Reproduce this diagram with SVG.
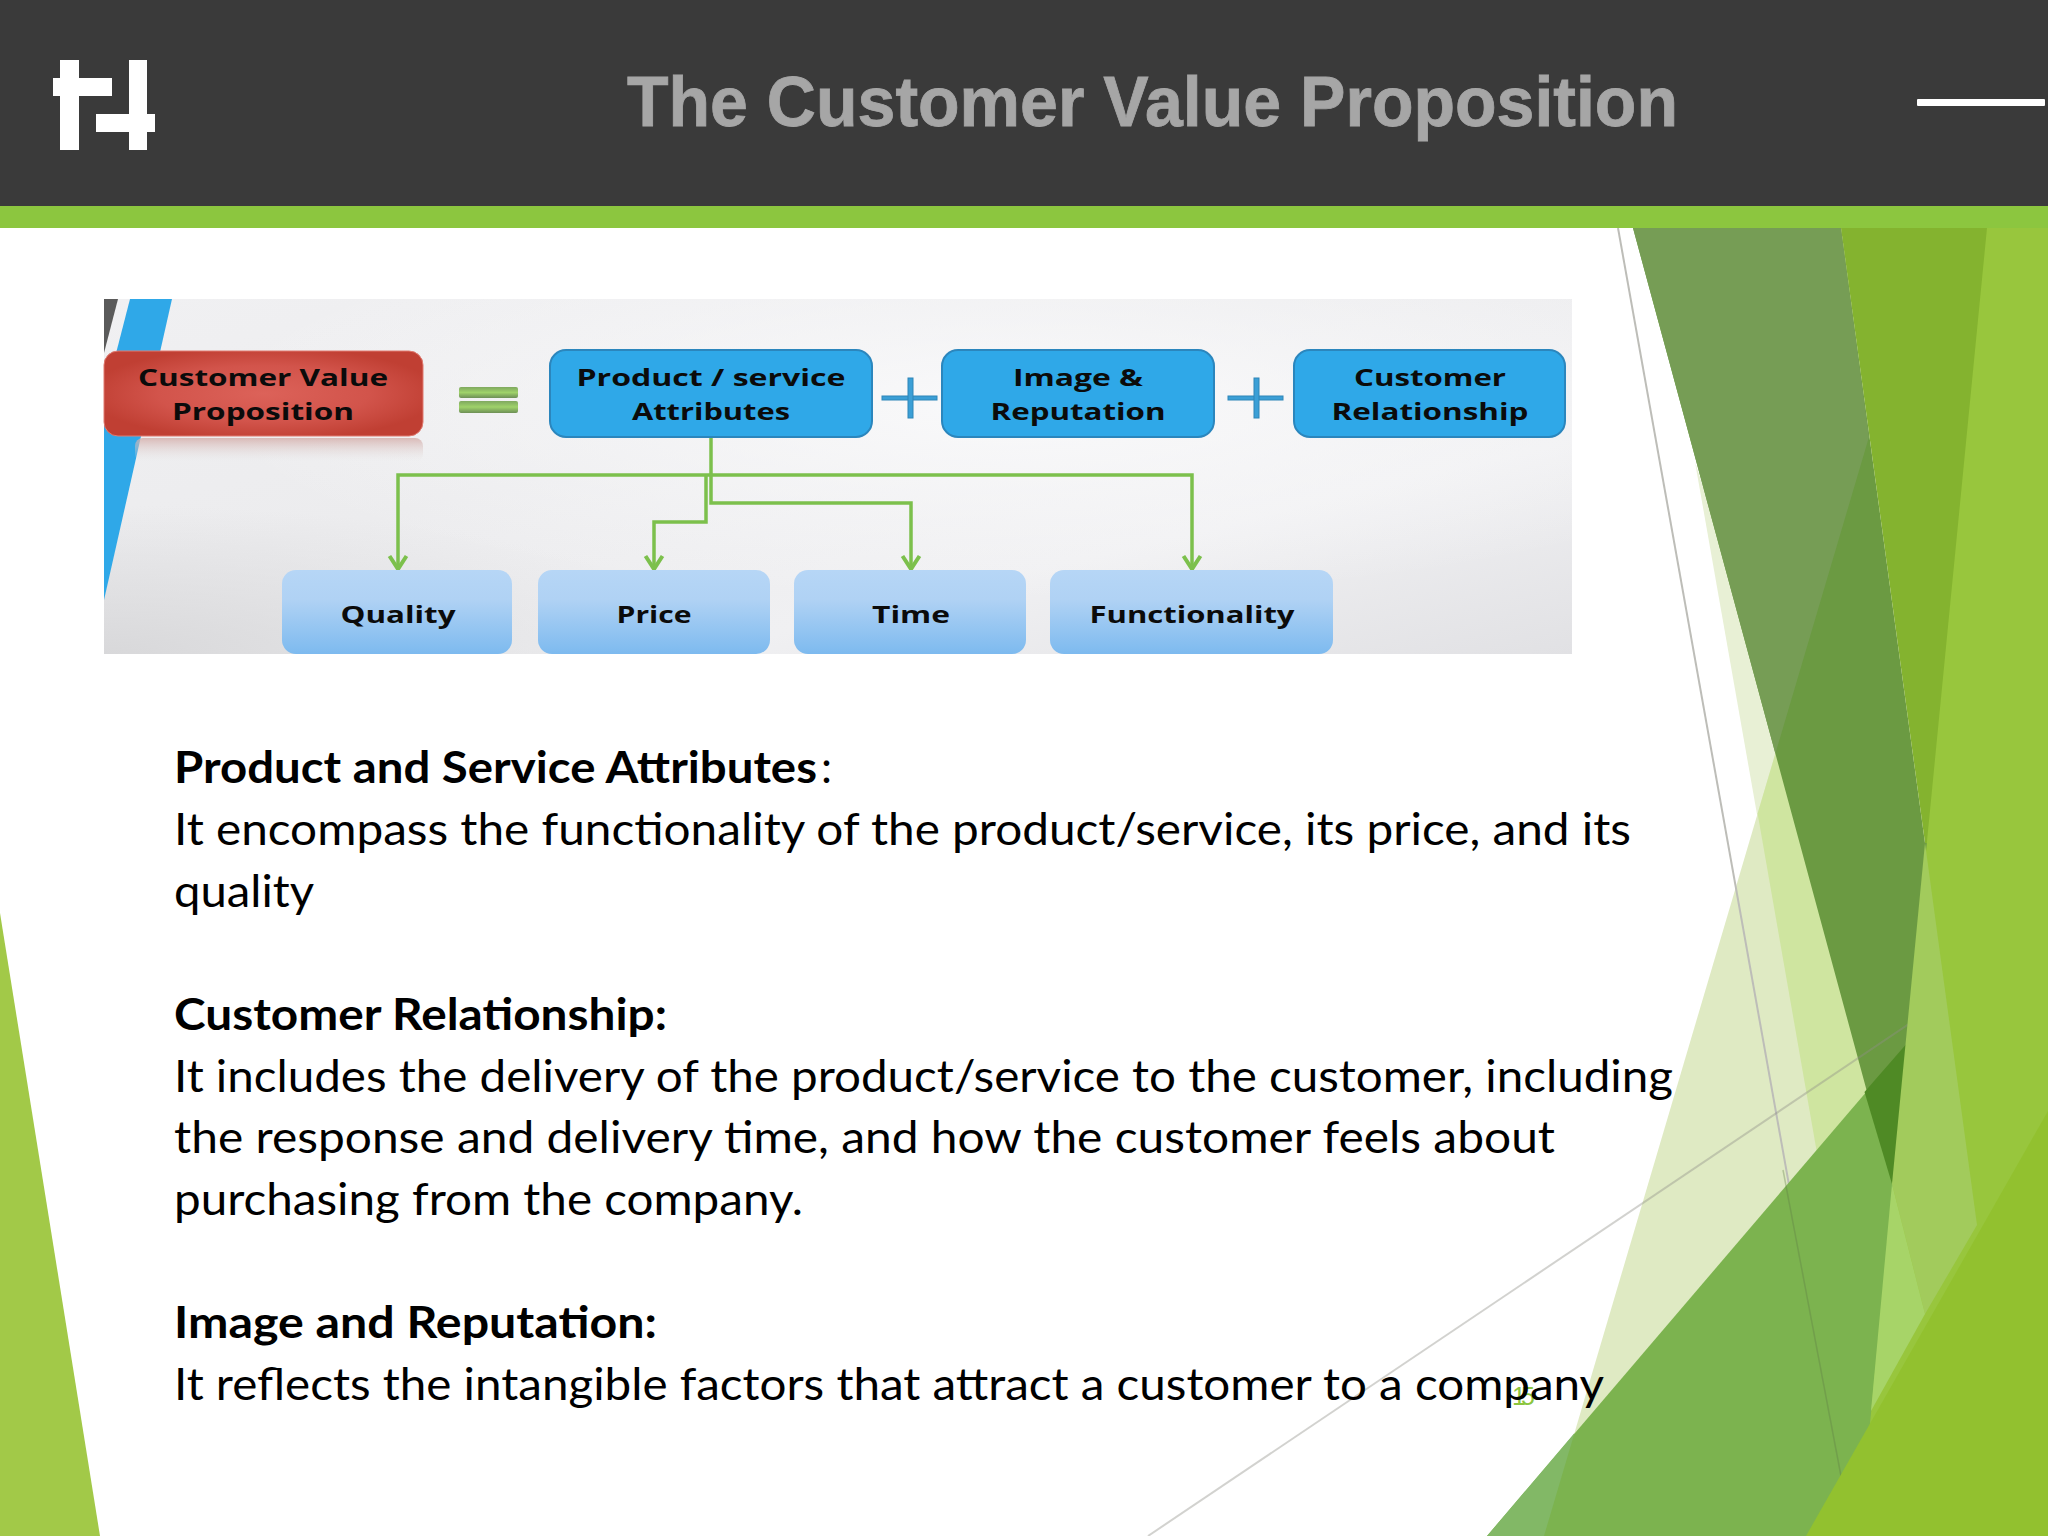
<svg xmlns="http://www.w3.org/2000/svg" width="2048" height="1536" viewBox="0 0 2048 1536">
<defs>
<style>
.t{font-family:"Liberation Sans",Arial,sans-serif;font-weight:700}
.b{font-family:Lato,"Open Sans",sans-serif;font-size:44px;fill:#000}
.bb{font-weight:700}
.n{font-family:"Open Sans","Noto Sans",sans-serif;font-weight:700;font-size:24px;fill:#0b0b0b;text-anchor:middle}
.top{fill:#2fa8e8;stroke:#2b86bd;stroke-width:2}
.sub{fill:url(#subG)}
.plus{fill:#3b9fd6;stroke:#2f86b8;stroke-width:1}
.c{fill:none;stroke:#7cc04c;stroke-width:3.5;stroke-linejoin:miter}
.a{marker-end:url(#arr)}
</style>
<linearGradient id="subG" x1="0" y1="0" x2="0" y2="1"><stop offset="0" stop-color="#b6d6f6"/><stop offset=".35" stop-color="#b0d2f4"/><stop offset="1" stop-color="#7dbaef"/></linearGradient>
<radialGradient id="redG" cx=".5" cy=".5" r=".55"><stop offset="0" stop-color="#dc6259"/><stop offset=".6" stop-color="#d2544b"/><stop offset="1" stop-color="#c03f33"/></radialGradient>
<linearGradient id="refl" x1="0" y1="0" x2="0" y2="1"><stop offset="0" stop-color="#d4aca8" stop-opacity=".8"/><stop offset="1" stop-color="#e4e4e4" stop-opacity="0"/></linearGradient>
<linearGradient id="eqG" x1="0" y1="0" x2="0" y2="1"><stop offset="0" stop-color="#7fa85f"/><stop offset=".5" stop-color="#9fd26a"/><stop offset="1" stop-color="#6d8f56"/></linearGradient>
<linearGradient id="bgA" x1="0" y1="0" x2="1" y2="1"><stop offset="0" stop-color="#f0f0f2"/><stop offset=".4" stop-color="#ececee"/><stop offset=".7" stop-color="#f0f0f2"/><stop offset="1" stop-color="#e1e1e4"/></linearGradient>
<radialGradient id="bgB" cx=".62" cy=".3" r=".55"><stop offset="0" stop-color="#fafafb" stop-opacity=".95"/><stop offset="1" stop-color="#fafafb" stop-opacity="0"/></radialGradient>
<radialGradient id="bgC" cx="0" cy="1" r=".42"><stop offset="0" stop-color="#d8d8da" stop-opacity="1"/><stop offset="1" stop-color="#d8d8da" stop-opacity="0"/></radialGradient>
<marker id="arr" markerUnits="userSpaceOnUse" markerWidth="24" markerHeight="20" refX="10" refY="16" orient="0" viewBox="0 0 20 20"><path d="M1.500 3 L10 16 L18.500 3" fill="none" stroke="#7cc04c" stroke-width="4"/></marker>
</defs>
<rect width="2048" height="1536" fill="#fff"/>

<g id="facets">
<polygon points="0,913 100,1536 0,1536" fill="#a2c948"/>
<polygon points="1695,462 1884,1536 1900,1536 1900,1100" fill="#e8f0d5"/>
<polygon points="1869,437 1544,1536 1900,1536" fill="#dfeac3"/>
<polygon points="1757.600,813.600 1884,1536 1900,1536 1900,900 1869,437" fill="#cfe5a0"/>
<line x1="1618" y1="228" x2="1841" y2="1476" stroke="#bdbdb8" stroke-width="2"/>
<polygon points="1633,228 1841,228 1925,843 1940,843 1905,1184 1892,1184" fill="#6b9a42"/>
<polygon points="1633,228 1841,228 1869,437 1775.400,753.500" fill="#769d55"/>
<polygon points="1487,1536 1950,994 1950,1536" fill="#7cb34f"/>
<polygon points="1487,1536 1544,1536 1574.500,1433" fill="#82b866"/>
<polygon points="1864.500,1092 1950,994 1892,1184" fill="#4f8a25"/>
<line x1="1783" y1="1170" x2="1841" y2="1476" stroke="#5f7a45" stroke-width="1.500" stroke-opacity=".35"/>
<line x1="1148" y1="1536" x2="1943" y2="1001" stroke="#8f8f88" stroke-width="2" stroke-opacity=".4"/>
<polygon points="1841,228 1990,228 2000,843 1925,843" fill="#84b32f"/>
<polygon points="1987,228 2048,228 2048,1536 1859,1536" fill="#98c63d"/>
<polygon points="1925,843 1977,1225 1925,1314 1892,1184" fill="#a2cb5c"/>
<polygon points="1892,1184 1925,1314 1871,1411" fill="#a7d468"/>
<polygon points="1806,1536 2048,1111 2048,1536" fill="#92c12f"/>
</g>

<g id="header">
<rect width="2048" height="206" fill="#3a3a3a"/>
<rect y="206" width="2048" height="22" fill="#8cc63f"/>
<g id="logo" fill="#fff">
<rect x="60" y="60" width="19" height="90"/><rect x="53" y="78" width="59" height="18"/>
<rect x="129" y="60" width="18" height="90"/><rect x="96" y="114" width="59" height="18"/>
</g>
<text class="t" x="627" y="126" font-size="71" fill="#a6a6a6" stroke="#a6a6a6" stroke-width=".8" textLength="1051" lengthAdjust="spacingAndGlyphs">The Customer Value Proposition</text>
<rect x="1917" y="99" width="128" height="7" rx="1" fill="#fff"/>
</g>

<g id="picture">
<rect x="104" y="299" width="1468" height="355" fill="url(#bgA)"/>
<rect x="104" y="299" width="1468" height="355" fill="url(#bgC)"/>
<rect x="104" y="299" width="1468" height="355" fill="url(#bgB)"/>
<polygon points="104,299 118,299 104,353" fill="#5a5a5a"/>
<polygon points="130,299 172,299 104,600 104,400" fill="#2fa8e8"/>
</g>

<text class="b" x="1512" y="1405" style="font-family:'Liberation Sans',sans-serif;font-size:25px;fill:#8cc63f" textLength="23">15</text>

<g id="connectors">
<path class="c" d="M711 437V475"/>
<path class="c a" d="M711 475H398V569"/>
<path class="c a" d="M711 475H1192V569"/>
<path class="c a" d="M706 475V522H654V569"/>
<path class="c a" d="M711 475V503H911V569"/>
</g>

<g id="node-customer-value">
<rect x="135" y="438" width="288" height="24" rx="8" fill="url(#refl)"/>
<rect x="104" y="351" width="319" height="85" rx="14" fill="url(#redG)" stroke="#e07a70" stroke-width="1"/>
<text class="n" x="263" y="386" textLength="250" lengthAdjust="spacingAndGlyphs">Customer Value</text>
<text class="n" x="263" y="420" textLength="182" lengthAdjust="spacingAndGlyphs">Proposition</text>
</g>
<g id="equals"><rect x="459" y="387" width="59" height="11" rx="2" fill="url(#eqG)"/><rect x="459" y="401" width="59" height="12" rx="2" fill="url(#eqG)"/></g>
<g id="node-product">
<rect class="top" x="550" y="350" width="322" height="87" rx="16"/>
<text class="n" x="711" y="386" textLength="269" lengthAdjust="spacingAndGlyphs">Product / service</text>
<text class="n" x="711" y="420" textLength="158" lengthAdjust="spacingAndGlyphs">Attributes</text>
</g>
<g id="plus-1"><rect class="plus" x="882" y="396" width="55" height="4"/><rect class="plus" x="908" y="378" width="5" height="40"/></g>
<g id="node-image">
<rect class="top" x="942" y="350" width="272" height="87" rx="16"/>
<text class="n" x="1078" y="386" textLength="130" lengthAdjust="spacingAndGlyphs">Image &amp;</text>
<text class="n" x="1078" y="420" textLength="175" lengthAdjust="spacingAndGlyphs">Reputation</text>
</g>
<g id="plus-2"><rect class="plus" x="1228" y="396" width="55" height="4"/><rect class="plus" x="1254" y="378" width="5" height="40"/></g>
<g id="node-relationship">
<rect class="top" x="1294" y="350" width="271" height="87" rx="16"/>
<text class="n" x="1430" y="386" textLength="152" lengthAdjust="spacingAndGlyphs">Customer</text>
<text class="n" x="1430" y="420" textLength="197" lengthAdjust="spacingAndGlyphs">Relationship</text>
</g>
<g id="node-quality"><rect class="sub" x="282" y="570" width="230" height="84" rx="14"/><text class="n" x="398" y="623" textLength="115" lengthAdjust="spacingAndGlyphs">Quality</text></g>
<g id="node-price"><rect class="sub" x="538" y="570" width="232" height="84" rx="14"/><text class="n" x="654" y="623" textLength="75" lengthAdjust="spacingAndGlyphs">Price</text></g>
<g id="node-time"><rect class="sub" x="794" y="570" width="232" height="84" rx="14"/><text class="n" x="911" y="623" textLength="78" lengthAdjust="spacingAndGlyphs">Time</text></g>
<g id="node-functionality"><rect class="sub" x="1050" y="570" width="283" height="84" rx="14"/><text class="n" x="1192" y="623" textLength="205" lengthAdjust="spacingAndGlyphs">Functionality</text></g>

<g id="body">
<text class="b bb" x="174" y="783" textLength="643" lengthAdjust="spacingAndGlyphs">Product and Service Attributes</text>
<text class="b" x="821" y="783">:</text>
<text class="b" x="174" y="845" textLength="1457" lengthAdjust="spacingAndGlyphs">It encompass the functionality of the product/service, its price, and its</text>
<text class="b" x="174" y="907" textLength="140" lengthAdjust="spacingAndGlyphs">quality</text>
<text class="b bb" x="174" y="1030" textLength="493" lengthAdjust="spacingAndGlyphs">Customer Relationship:</text>
<text class="b" x="174" y="1092" textLength="1499" lengthAdjust="spacingAndGlyphs">It includes the delivery of the product/service to the customer, including</text>
<text class="b" x="174" y="1153" textLength="1381" lengthAdjust="spacingAndGlyphs">the response and delivery time, and how the customer feels about</text>
<text class="b" x="174" y="1215" textLength="629" lengthAdjust="spacingAndGlyphs">purchasing from the company.</text>
<text class="b bb" x="174" y="1338" textLength="483" lengthAdjust="spacingAndGlyphs">Image and Reputation:</text>
<text class="b" x="174" y="1400" textLength="1430" lengthAdjust="spacingAndGlyphs">It reflects the intangible factors that attract a customer to a company</text>
</g>
</svg>
